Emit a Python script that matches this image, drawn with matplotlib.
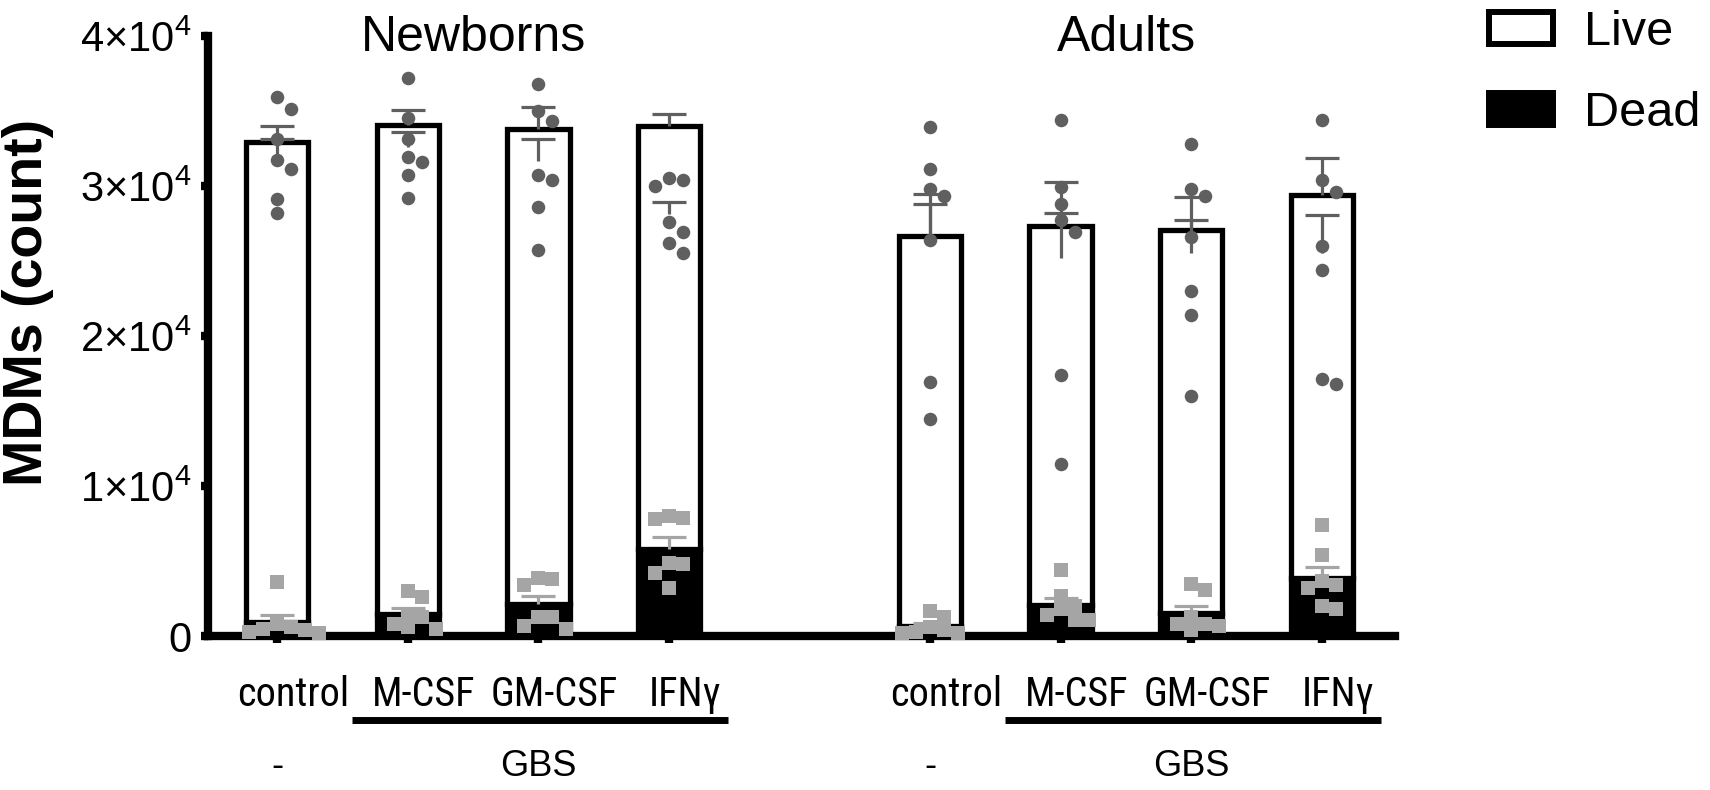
"""Live / dead MDM counts after GBS stimulation, newborns vs adults."""

import numpy as np
import matplotlib

matplotlib.use("Agg")
import matplotlib.pyplot as plt
from matplotlib.patches import Patch
from matplotlib.transforms import ScaledTranslation, blended_transform_factory

plt.rcParams["font.family"] = ["Liberation Sans", "DejaVu Sans"]
plt.rcParams["mathtext.fontset"] = "custom"
plt.rcParams["mathtext.rm"] = "Liberation Sans"
plt.rcParams["mathtext.default"] = "regular"

TREATMENTS = ["control", "M-CSF", "GM-CSF", "IFNγ"]
GROUPS = ["Newborns", "Adults"]
STIMULUS = ["-", "GBS"]

# one value per donor, cells per well
NEWBORN_LIVE = [
    [35900, 35100, 33100, 31700, 31100, 29100, 28200],  # control
    [37200, 34500, 33100, 31900, 31600, 30700, 29200],  # M-CSF
    [36800, 35000, 34300, 30700, 30400, 28600, 25700],  # GM-CSF
    [30500, 30400, 30000, 27600, 26900, 26200, 25500],  # IFNγ
]
NEWBORN_DEAD = [
    [3600, 800, 500, 300, 600, 200, 400],
    [3000, 2600, 1300, 800, 1500, 600, 500],
    [3800, 3400, 3900, 1300, 500, 1300, 700],
    [8000, 7800, 7900, 4900, 4800, 4200, 3200],
]
ADULT_LIVE = [
    [33900, 31100, 29800, 29300, 26400, 16900, 14500],
    [34400, 29900, 28800, 27700, 26900, 17400, 11500],
    [32800, 29800, 29300, 26600, 23000, 21400, 16000],
    [34400, 30400, 29600, 26000, 24400, 17100, 16800],
]
ADULT_DEAD = [
    [1700, 1300, 600, 400, 300, 200, 200],
    [4400, 2700, 2000, 1800, 1400, 1100, 1100],
    [3500, 3100, 1300, 800, 800, 700, 400],
    [7400, 5400, 3700, 3400, 3200, 2000, 1800],
]

LIVE_DOT = "#5f5f5f"
DEAD_DOT = "#a5a5a5"
# the category names in the original are a squeezed grotesque
LABEL_FONT = ["Roboto Condensed", "Liberation Sans"]


def sem(values):
    values = np.asarray(values, dtype=float)
    return values.std(ddof=1) / np.sqrt(len(values))


def swarm_offsets(ax, x0, values, diameter_px):
    """Spread overlapping points sideways, the way prism does it."""
    to_px = ax.transData.transform
    px_per_x = to_px((1, 0))[0] - to_px((0, 0))[0]
    order = np.argsort(values)[::-1]
    placed = []
    offsets = np.zeros(len(values))
    for i in order:
        y = to_px((x0, values[i]))[1]
        for k in [0, 1, -1, 2, -2, 3, -3]:
            dx = k * diameter_px
            if all(np.hypot(dx - px, y - py) >= diameter_px * 0.95 for px, py in placed):
                break
        placed.append((dx, y))
        offsets[i] = dx / px_per_x
    return offsets


def draw_tee(ax, x, base, err, color):
    # one-sided sem: stem from the mean up to a single cap
    ax.vlines(x, base, base + err, colors=color, linewidth=2.3, zorder=3)
    ax.plot(x, base + err, linestyle="none", marker="_", markersize=24,
            markeredgewidth=2.3, color=color, zorder=3)


fig = plt.figure(figsize=(17.1, 7.9), dpi=100)
ax = fig.add_axes([208 / 1710, 154 / 790, 1187 / 1710, 600 / 790])
ax.set_xlim(-0.53, 8.56)
ax.set_ylim(0, 40000)

for side in ("top", "right"):
    ax.spines[side].set_visible(False)
for side in ("left", "bottom"):
    ax.spines[side].set_linewidth(6)
ax.spines["left"].set_capstyle("projecting")
ax.tick_params(width=6, length=5)

positions = []
for g, (live_sets, dead_sets) in enumerate([(NEWBORN_LIVE, NEWBORN_DEAD),
                                           (ADULT_LIVE, ADULT_DEAD)]):
    xs = np.arange(len(TREATMENTS)) + 5 * g
    positions.extend(xs)
    live_mean = np.array([np.mean(v) for v in live_sets])
    dead_mean = np.array([np.mean(v) for v in dead_sets])
    live_sem = np.array([sem(v) for v in live_sets])
    dead_sem = np.array([sem(v) for v in dead_sets])

    ax.bar(xs, dead_mean, width=0.478, color="black", edgecolor="black",
           linewidth=3.8, zorder=1)
    ax.bar(xs, live_mean, bottom=dead_mean, width=0.478, facecolor="white",
           edgecolor="black", linewidth=3.8, zorder=1)

    for i, x in enumerate(xs):
        draw_tee(ax, x, dead_mean[i] + live_mean[i], live_sem[i], LIVE_DOT)
        draw_tee(ax, x, live_mean[i], live_sem[i], LIVE_DOT)
        draw_tee(ax, x, dead_mean[i], dead_sem[i], DEAD_DOT)

        live = np.asarray(live_sets[i], dtype=float)
        dead = np.asarray(dead_sets[i], dtype=float)
        ax.scatter(x + swarm_offsets(ax, x, live, 14), live, s=95,
                   color=LIVE_DOT, linewidths=0, zorder=4, clip_on=False)
        ax.scatter(x + swarm_offsets(ax, x, dead, 14), dead, s=95, marker="s",
                   color=DEAD_DOT, linewidths=0, zorder=4, clip_on=False)

    ax.text(xs.mean(), 39000, GROUPS[g], ha="center", va="baseline",
            fontsize=36)

ax.set_yticks([0, 10000, 20000, 30000, 40000])
ax.set_yticklabels(["0", "1×10$^{4}$", "2×10$^{4}$", "3×10$^{4}$", "4×10$^{4}$"],
                   fontsize=30)
ax.tick_params(axis="y", pad=7)
ax.set_xticks(positions)
ax.set_xticklabels([])

ax.set_ylabel("MDMs (count)", fontsize=40, fontweight="bold")
ax.yaxis.set_label_coords(-0.1516, 0.556)
ax.yaxis.label.set_verticalalignment("center")

# treatment names, then the stimulus row with its bar
below = blended_transform_factory(ax.transData, ax.transAxes)
nudge = below + ScaledTranslation(16 / 100, 0, fig.dpi_scale_trans)
for x, name in zip(positions, TREATMENTS * 2):
    ax.text(x, -0.097, name, transform=nudge, ha="center", va="center",
            fontsize=29, family=LABEL_FONT)
for g in range(2):
    start = 5 * g
    ax.text(start, -0.217, STIMULUS[0], transform=below, ha="center",
            va="center", fontsize=26)
    ax.text(start + 2, -0.217, STIMULUS[1], transform=below, ha="center",
            va="center", fontsize=26)
    ax.plot([start + 0.57, start + 3.45], [-0.14, -0.14], transform=below,
            color="black", linewidth=5, solid_capstyle="butt", clip_on=False)

handles = [Patch(facecolor="white", edgecolor="black", linewidth=4.3),
           Patch(facecolor="black", edgecolor="black", linewidth=4.3)]
fig.legend(handles, ["Live", "Dead"], loc="upper left",
           bbox_to_anchor=(1489 / 1710, 0.987), frameon=False, fontsize=35,
           handlelength=1.32, handleheight=0.64, handletextpad=0.64,
           labelspacing=0.74, borderpad=0, borderaxespad=0)

fig.savefig("out.png", dpi=100)
